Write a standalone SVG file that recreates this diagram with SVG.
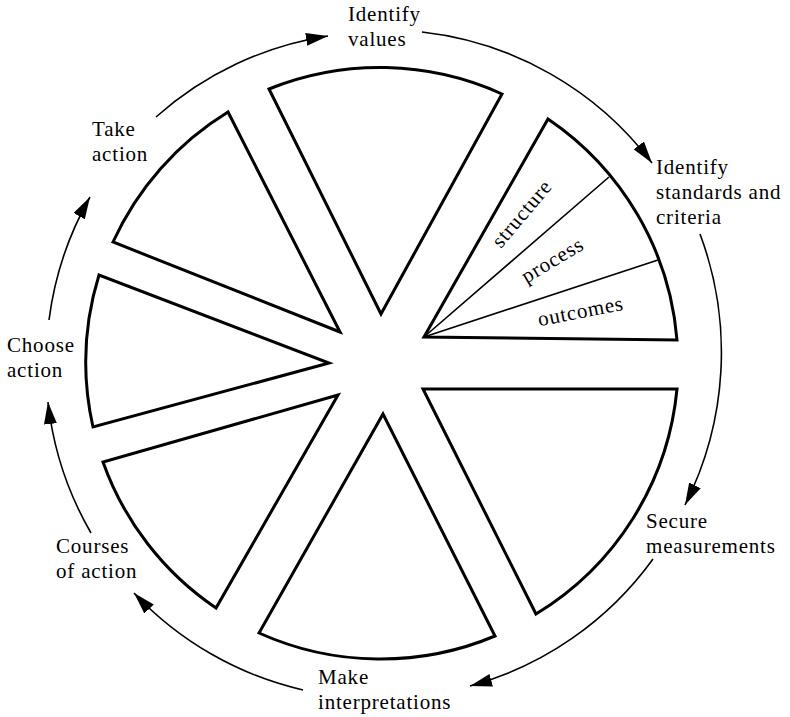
<svg xmlns="http://www.w3.org/2000/svg" width="790" height="717" viewBox="0 0 790 717">
  <style>
    .wedge { fill: #ffffff; stroke: #000000; stroke-width: 3; stroke-linejoin: miter; }
    .divider { fill: none; stroke: #000000; stroke-width: 1.6; }
    .flow { fill: none; stroke: #000000; stroke-width: 1.6; marker-end: url(#head); }
    .label { font-family: "Liberation Serif", "Times New Roman", serif; font-size: 21px; letter-spacing: 0.8px; fill: #000000; }
  </style>
  <defs>
    <marker id="head" markerUnits="userSpaceOnUse" markerWidth="24" markerHeight="14" refX="22" refY="6.5" orient="auto" viewBox="0 0 24 14">
      <path d="M0,0 L22,6.5 L0,13 Z" fill="#000000"/>
    </marker>
  </defs>
  <rect x="0" y="0" width="790" height="717" fill="#ffffff"/>

  <!-- wheel segments (outer rim centred on 382,364, radius 296) -->
  <g id="segment-values">
    <path class="wedge" d="M381,314 L269,89 A296,296 0 0 1 502,94 Z"/>
  </g>
  <g id="segment-standards">
    <path class="wedge" d="M424,337 L548,119 A296,296 0 0 1 677,340 Z"/>
    <path class="divider" d="M424,337 L609,177 M424,337 L658,260"/>
    <text class="label" transform="translate(527,218) rotate(-50)" text-anchor="middle">structure</text>
    <text class="label" transform="translate(556,266) rotate(-31)" text-anchor="middle">process</text>
    <text class="label" transform="translate(582,318) rotate(-11)" text-anchor="middle">outcomes</text>
  </g>
  <g id="segment-measurements">
    <path class="wedge" d="M423,389 L677,389 A296,296 0 0 1 536,614 Z"/>
  </g>
  <g id="segment-interpretations">
    <path class="wedge" d="M383,414 L495,636 A296,296 0 0 1 259,633 Z"/>
  </g>
  <g id="segment-courses">
    <path class="wedge" d="M338,395 L216,608 A296,296 0 0 1 103,462 Z"/>
  </g>
  <g id="segment-choose">
    <path class="wedge" d="M329,363 L93,427 A296,296 0 0 1 99,275 Z"/>
  </g>
  <g id="segment-action">
    <path class="wedge" d="M340,332 L113,242 A296,296 0 0 1 228,112 Z"/>
  </g>

  <!-- cycle arrows around the rim -->
  <g id="connectors">
    <path class="flow" d="M156,117 A335,335 0 0 1 328,36"/>
    <path class="flow" d="M422,32 A335,335 0 0 1 652,163"/>
    <path class="flow" d="M700,234 A338,338 0 0 1 685,505"/>
    <path class="flow" d="M653,559 A335,335 0 0 1 470,686"/>
    <path class="flow" d="M303,690 A335,335 0 0 1 134,593"/>
    <path class="flow" d="M91,533 A335,335 0 0 1 48,402"/>
    <path class="flow" d="M49,320 A335,335 0 0 1 90,197"/>
  </g>

  <!-- step labels -->
  <g id="label-identify-values">
    <text class="label" x="348" y="21">Identify</text>
    <text class="label" x="348" y="46">values</text>
  </g>
  <g id="label-identify-standards">
    <text class="label" x="656" y="174">Identify</text>
    <text class="label" x="656" y="199">standards and</text>
    <text class="label" x="656" y="224">criteria</text>
  </g>
  <g id="label-secure">
    <text class="label" x="646" y="528">Secure</text>
    <text class="label" x="646" y="553">measurements</text>
  </g>
  <g id="label-make">
    <text class="label" x="318" y="684">Make</text>
    <text class="label" x="318" y="709">interpretations</text>
  </g>
  <g id="label-courses">
    <text class="label" x="56" y="553">Courses</text>
    <text class="label" x="56" y="578">of action</text>
  </g>
  <g id="label-choose">
    <text class="label" x="7" y="352">Choose</text>
    <text class="label" x="7" y="377">action</text>
  </g>
  <g id="label-take">
    <text class="label" x="92" y="136">Take</text>
    <text class="label" x="92" y="161">action</text>
  </g>
</svg>
